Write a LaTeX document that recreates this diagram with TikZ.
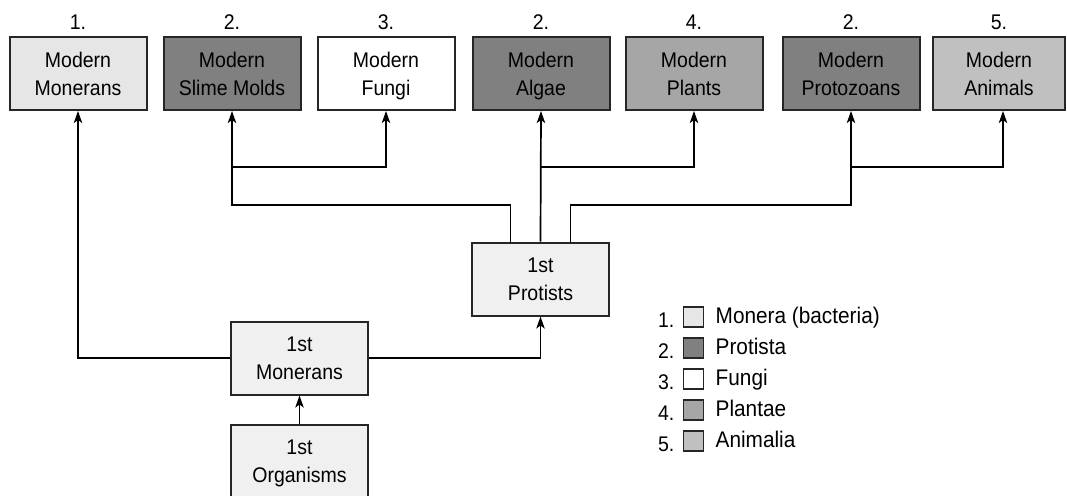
\documentclass[tikz,border=0pt]{standalone}
\usepackage{fontspec}
\setmainfont{Liberation Sans}[FakeStretch = 0.92]
\usetikzlibrary{arrows.meta}

\definecolor{monera}{HTML}{E6E6E6}
\definecolor{protista}{HTML}{808080}
\definecolor{plantae}{HTML}{A6A6A6}
\definecolor{animalia}{HTML}{C0C0C0}
\definecolor{early}{HTML}{F0F0F0}

\tikzset{
    box/.style = {draw = black!85, line width = 1pt, minimum width = 68.5pt,
        minimum height = 36.5pt, inner sep = 0pt, align = center, text depth = 0pt,
        font = \fontsize{10.6}{14}\selectfont},
    num/.style = {anchor = base, inner sep = 0pt, font = \fontsize{10.6}{12}\selectfont},
    arr/.style = {line width = 0.85pt, -{Stealth[length = 6pt, width = 4.2pt, inset = 1.5pt]}},
    key/.style = {draw = black!85, line width = 0.8pt, minimum size = 10pt, inner sep = 0pt},
    keytext/.style = {anchor = base west, inner sep = 0pt, font = \fontsize{11.3}{12}\selectfont}
}

\begin{document}
\begin{tikzpicture}[x = 0.5pt, y = -0.5pt]
        \useasboundingbox (0, 0) rectangle (1067, 495);

        % modern kingdoms
        \node[box, fill = monera] (m1) at (78, 73.5) {Modern\\Monerans};
        \node[box, fill = protista] (m2) at (232, 73.5) {Modern\\Slime Molds};
        \node[box, fill = white] (m3) at (386, 73.5) {Modern\\Fungi};
        \node[box, fill = protista] (m4) at (541, 73.5) {Modern\\Algae};
        \node[box, fill = plantae] (m5) at (694, 73.5) {Modern\\Plants};
        \node[box, fill = protista] (m6) at (851, 73.5) {Modern\\Protozoans};
        \node[box, fill = animalia, minimum width = 66pt] (m7) at (999, 73.5) {Modern\\Animals};

        \node[num] (n1) at ([yshift = 3.5pt]m1.north) {1.};
        \node[num] (n2) at ([yshift = 3.5pt]m2.north) {2.};
        \node[num] (n3) at ([yshift = 3.5pt]m3.north) {3.};
        \node[num] (n4) at ([yshift = 3.5pt]m4.north) {2.};
        \node[num] (n5) at ([yshift = 3.5pt]m5.north) {4.};
        \node[num] (n6) at ([yshift = 3.5pt]m6.north) {2.};
        \node[num] (n7) at ([yshift = 3.5pt]m7.north) {5.};

        % early organisms
        \node[box, fill = early] (pro) at (540.5, 279) {1st\\Protists};
        \node[box, fill = early] (mon) at (299.5, 358) {1st\\Monerans};
        \node[box, fill = early] (org) at (299.5, 461) {1st\\Organisms};

        \coordinate (highbar) at (0, 167);
        \coordinate (lowbar) at (0, 205);

        \draw[arr] (org) -- (mon);
        \draw[arr] (mon.west) -| (m1.south);
        \draw[arr] (mon.east) -| (pro.south);

        \draw[arr] ([xshift = -15pt]pro.north) -- ([xshift = -15pt]pro.north |- lowbar) -| (m2.south);
        \draw[arr] (m2.south |- highbar) -| (m3.south);
        \draw[arr] (pro.north) -- (m4.south);
        \draw[arr] (m4.south |- highbar) -| (m5.south);
        \draw[arr] ([xshift = 15pt]pro.north) -- ([xshift = 15pt]pro.north |- lowbar) -| (m6.south);
        \draw[arr] (m6.south |- highbar) -| ([xshift = 2pt]m7.south);

        % legend
        \node[key, fill = monera] (k1) at (693.5, 317) {};
        \node[key, fill = protista] (k2) at (693.5, 348) {};
        \node[key, fill = white] (k3) at (693.5, 379) {};
        \node[key, fill = plantae] (k4) at (693.5, 410) {};
        \node[key, fill = animalia] (k5) at (693.5, 441) {};

        \node[num, anchor = base east] (l1) at ([xshift = -4pt]k1.south west) {1.};
        \node[num, anchor = base east] (l2) at ([xshift = -4pt]k2.south west) {2.};
        \node[num, anchor = base east] (l3) at ([xshift = -4pt]k3.south west) {3.};
        \node[num, anchor = base east] (l4) at ([xshift = -4pt]k4.south west) {4.};
        \node[num, anchor = base east] (l5) at ([xshift = -4pt]k5.south west) {5.};

        \node[keytext] (t1) at ([xshift = 5.5pt, yshift = 2pt]k1.south east) {Monera (bacteria)};
        \node[keytext] (t2) at ([xshift = 5.5pt, yshift = 2pt]k2.south east) {Protista};
        \node[keytext] (t3) at ([xshift = 5.5pt, yshift = 2pt]k3.south east) {Fungi};
        \node[keytext] (t4) at ([xshift = 5.5pt, yshift = 2pt]k4.south east) {Plantae};
        \node[keytext] (t5) at ([xshift = 5.5pt, yshift = 2pt]k5.south east) {Animalia};
    \end{tikzpicture}
\end{document}
